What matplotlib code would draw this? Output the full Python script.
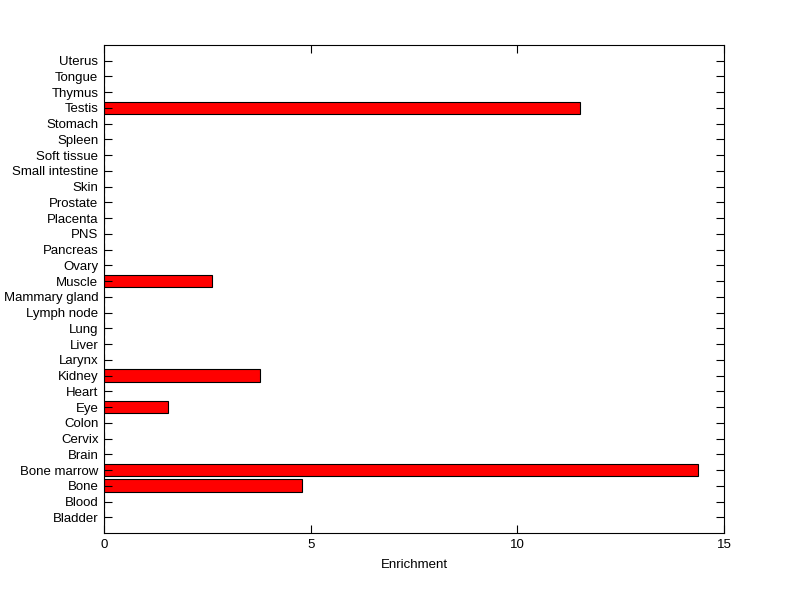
import matplotlib
matplotlib.use("Agg")
import matplotlib.pyplot as plt

tissues = ["Bladder", "Blood", "Bone", "Bone marrow", "Brain", "Cervix", "Colon",
           "Eye", "Heart", "Kidney", "Larynx", "Liver", "Lung", "Lymph node",
           "Mammary gland", "Muscle", "Ovary", "Pancreas", "PNS", "Placenta",
           "Prostate", "Skin", "Small intestine", "Soft tissue", "Spleen",
           "Stomach", "Testis", "Thymus", "Tongue", "Uterus"]
enrichment = [0, 0, 4.78, 14.36, 0, 0, 0,
              1.55, 0, 3.77, 0, 0, 0, 0,
              0, 2.61, 0, 0, 0, 0,
              0, 0, 0, 0, 0,
              0, 11.52, 0, 0, 0]

plt.rcParams['font.family'] = ['Liberation Sans', 'DejaVu Sans']
plt.rcParams['font.size'] = 9.5

fig = plt.figure(figsize=(8, 5.99), dpi=100)
ax = fig.add_axes([0.13, 0.1102, 0.775, 0.8147])

pos = list(range(1, len(tissues) + 1))
ax.barh(pos, enrichment, height=0.8, color="#ff0000", edgecolor="black", linewidth=0.8)

ax.set_xlim(0, 15)
ax.set_ylim(0, len(tissues) + 1)
ax.set_xticks([0, 5, 10, 15])
ax.set_yticks(pos)
ax.set_yticklabels(tissues)
ax.set_xlabel("Enrichment", labelpad=6)
ax.tick_params(direction="in", length=6, width=0.8, top=True, right=True,
               colors="black", pad=4)
for s in ax.spines.values():
    s.set_linewidth(0.8)

fig.savefig("out.png", dpi=100)
